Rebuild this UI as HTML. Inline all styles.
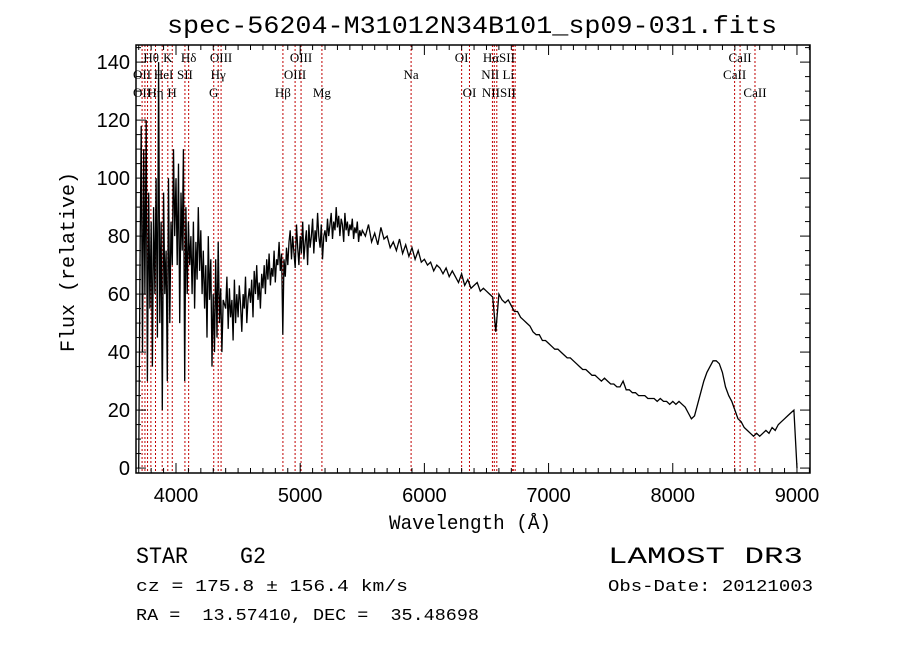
<!DOCTYPE html>
<html><head><meta charset="utf-8"><style>
html,body{margin:0;padding:0;background:#fff;}
svg{display:block;}
text{font-family:"Liberation Sans",sans-serif;fill:#000;}
.mono{font-family:"Liberation Mono",monospace;white-space:pre;}
.ser{font-family:"Liberation Serif",serif;font-size:13px;}
</style></head><body>
<svg id="chart" width="900" height="649" viewBox="0 0 900 649" xmlns="http://www.w3.org/2000/svg">
<rect width="900" height="649" fill="#fff"/>
<text x="472" y="33" text-anchor="middle" font-size="25" class="mono" textLength="610" lengthAdjust="spacingAndGlyphs">spec-56204-M31012N34B101_sp09-031.fits</text>
<g id="lines"></g>
<g id="ticks"></g>
<path id="spec" fill="none" stroke="#000" stroke-width="1.3"/>
<rect x="136" y="45" width="674" height="428" fill="none" stroke="#000" stroke-width="1.5"/>
<g id="labels"></g>
<text x="470" y="529" text-anchor="middle" font-size="20" class="mono" textLength="162" lengthAdjust="spacingAndGlyphs">Wavelength (Å)</text>
<text x="0" y="0" transform="translate(74,262) rotate(-90)" text-anchor="middle" font-size="20" class="mono" textLength="180" lengthAdjust="spacingAndGlyphs">Flux (relative)</text>
<text x="136" y="563" font-size="23" class="mono" xml:space="preserve" textLength="130" lengthAdjust="spacingAndGlyphs">STAR    G2</text>
<text x="136" y="591" font-size="17" class="mono" textLength="272" lengthAdjust="spacingAndGlyphs">cz = 175.8 ± 156.4 km/s</text>
<text x="136" y="620" font-size="17" class="mono" xml:space="preserve" textLength="343" lengthAdjust="spacingAndGlyphs">RA =  13.57410, DEC =  35.48698</text>
<text x="608" y="563" font-size="23" class="mono" textLength="195" lengthAdjust="spacingAndGlyphs">LAMOST DR3</text>
<text x="608" y="591" font-size="17" class="mono" textLength="205" lengthAdjust="spacingAndGlyphs">Obs-Date: 20121003</text>
</svg>
<script>
const xTicks=[4000,5000,6000,7000,8000,9000];
const yTicks=[0,20,40,60,80,100,120,140];
const lineWaves=[3727,3750,3771,3798,3835,3889,3934,3970,4072,4102,4304,4340,4363,4861,4959,5007,5175,5893,6300,6363,6548,6563,6583,6708,6716,6731,8498,8542,8662];
const labelNames=["Hθ","K","Hδ","OIII","OIII","OI","HαSII","CaII","OII","HeI","SII","Hγ","OIII","Na","NII Li","CaII","OII","Hη","H","G","Hβ","Mg","OI","NIISII","CaII"];
const labelWaves=[3800,3934,4102,4363,5007,6300,6600,8542,3727,3900,4072,4340,4959,5893,6590,8498,3727,3835,3968,4304,4861,5175,6363,6600,8662];
const labelRows=[0,0,0,0,0,0,0,0,1,1,1,1,1,1,1,1,2,2,2,2,2,2,2,2,2];
const segStarts=[3700,4400,5500];
const segSteps=[10,10,25];
const flux1=[0,70,118,40,110,60,120,30,95,55,85,35,90,60,100,45,140,50,85,20,95,60,75,30,100,50,85,70,110,80,100,70,105,50,95,75,110,30,90,60,85,70,80,60,85,55,78,65,90,68,82,60,75,55,70,45,80,58,72,35,60,40,72,45,78,50,62,40,58];
const flux2=[55,66,48,62,52,58,44,65,50,60,52,63,56,47,60,55,66,50,58,62,57,65,52,68,60,70,58,64,55,67,62,70,60,72,65,74,63,69,66,75,64,72,70,78,68,74,46,72,66,76,70,78,82,72,80,74,69,84,76,70,80,74,85,72,78,82,70,84,76,80,86,74,82,78,88,80,76,84,72,80,82,78,86,80,84,88,79,85,82,90,83,87,80,86,84,78,88,82,85,80,84,82,86,79,83,81,85,78,82,80];
const flux3=[82,80,84,78,81,77,83,79,80,76,78,75,79,74,77,73,76,72,75,71,72,70,71,68,70,69,67,69,66,68,66,64,67,63,65,62,63,64,61,62,61,60,59,47,60,58,57,58,56,54,54,52,51,50,49,47,46,46,44,44,43,42,41,41,40,39,38,38,37,36,35,34,34,33,32,32,31,30,31,30,29,29,28,28,30,27,27,26,26,25,25,25,24,24,24,23,24,23,23,22,23,22,23,22,21,19,17,18,22,26,30,33,35,37,37,36,33,28,25,23,20,17,16,14,13,12,11,12,11,12,13,12,14,13,15,16,17,18,19,20,0];
const segFlux=[flux1,flux2,flux3];

const X0=136,X1=810,Y0=45,Y1=473;
const WMIN=3678,WMAX=9105,FMIN=-1.7,FMAX=145.9;
function xs(w){return X0+(w-WMIN)/(WMAX-WMIN)*(X1-X0);}
function ys(f){return Y1-(f-FMIN)/(FMAX-FMIN)*(Y1-Y0);}
const NS="http://www.w3.org/2000/svg";
function mk(tag,parent,attrs){const e=document.createElementNS(NS,tag);for(const k in attrs)e.setAttribute(k,attrs[k]);parent.appendChild(e);return e;}

const gl=document.getElementById('lines');
lineWaves.forEach(w=>{
  const l=mk('line',gl,{x1:xs(w),x2:xs(w),y1:Y0,y2:Y1,stroke:'#c00000','stroke-width':1,'stroke-dasharray':'2,2'});
  
  
});

const gt=document.getElementById('ticks');
for(let w=3700;w<=9100;w+=100){
  const major=w%1000===0, len=major?10:5;
  mk('line',gt,{x1:xs(w),x2:xs(w),y1:Y1,y2:Y1-len,stroke:'#000'});
  mk('line',gt,{x1:xs(w),x2:xs(w),y1:Y0,y2:Y0+len,stroke:'#000'});
}
for(let f=0;f<=145;f+=5){
  const major=f%20===0, len=major?10:5;
  mk('line',gt,{x1:X0,x2:X0+len,y1:ys(f),y2:ys(f),stroke:'#000'});
  mk('line',gt,{x1:X1,x2:X1-len,y1:ys(f),y2:ys(f),stroke:'#000'});
}
xTicks.forEach(w=>{
  const t=mk('text',gt,{x:xs(w),y:Y1+29,'text-anchor':'middle','font-size':20});
  t.textContent=w;
  
  
});
yTicks.forEach(f=>{
  const t=mk('text',gt,{x:X0-6,y:ys(f)+7,'text-anchor':'end','font-size':20});
  t.textContent=f;
  
  
});

const glab=document.getElementById('labels');
const rowY=[62,79,97];
labelNames.forEach((n,i)=>{
  const t=mk('text',glab,{x:xs(labelWaves[i]),y:rowY[labelRows[i]],'text-anchor':'middle',class:'ser'});
  t.textContent=n;
  
  
});

let d='';
segFlux.forEach((arr,s)=>{
  arr.forEach((f,i)=>{
    const w=segStarts[s]+i*segSteps[s];
    d+=(d?'L':'M')+xs(w).toFixed(1)+','+ys(f).toFixed(1);
  });
});
document.getElementById('spec').setAttribute('d',d);
</script>
</body></html>
